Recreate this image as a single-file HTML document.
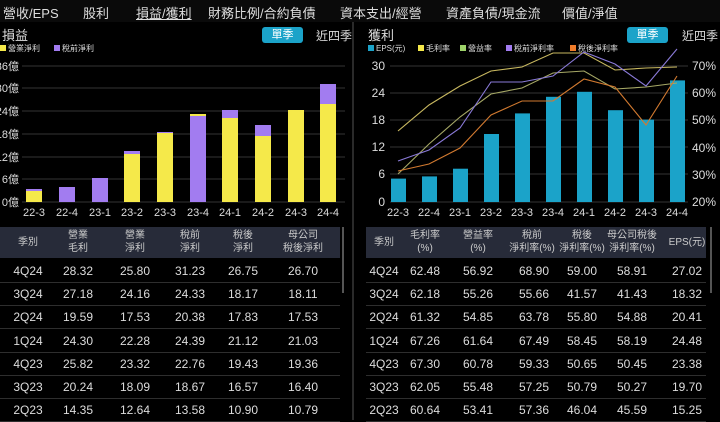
<!DOCTYPE html>
<html><head><meta charset="utf-8"><style>
body{margin:0;width:720px;height:420px;overflow:hidden;background:#000;font-family:"Liberation Sans","Noto Sans CJK TC",sans-serif;color:#ddd;position:relative}
.a{position:absolute;white-space:nowrap}
.nav{font-size:13px;color:#ddd;top:3px}
.btn{background:#1ba3c9;color:#fff;font-size:11px;border-radius:3px;text-align:center;line-height:16px}
.hd{background:#272b39;position:absolute;top:227px;height:31px}
.c{position:absolute;text-align:center;font-size:12px;transform:translateX(-50%)}
.h{font-size:10px;line-height:13px;color:#ccc}
.sep{position:absolute;height:1px;background:#2e2e2e}
</style></head><body>
<div class="a" style="left:0;top:0;width:720px;height:22px;background:#0a0a0a"></div>
<div class="a nav" style="left:3px">營收/EPS</div>
<div class="a nav" style="left:83px">股利</div>
<div class="a nav" style="left:136px;text-decoration:underline">損益/獲利</div>
<div class="a nav" style="left:208px">財務比例/合約負債</div>
<div class="a nav" style="left:340px">資本支出/經營</div>
<div class="a nav" style="left:446px">資產負債/現金流</div>
<div class="a nav" style="left:562px">價值/淨值</div>
<div class="a" style="left:352px;top:22px;width:2px;height:398px;background:#2a2a2a"></div>

<div class="a" style="left:2px;top:25px;font-size:13px">損益</div>
<div class="a btn" style="left:262px;top:27px;width:41px">單季</div>
<div class="a" style="left:316px;top:27px;font-size:12px">近四季</div>
<div class="a" style="left:368px;top:25px;font-size:13px">獲利</div>
<div class="a btn" style="left:627px;top:27px;width:41px">單季</div>
<div class="a" style="left:682px;top:27px;font-size:12px">近四季</div>

<svg class="a" style="left:0;top:0" width="720" height="225" font-family="Liberation Sans,Noto Sans CJK TC,sans-serif">
<g font-size="8" fill="#ddd">
<rect x="0" y="45" width="6" height="6" fill="#f5e94a"/><text x="8" y="51">營業淨利</text>
<rect x="54" y="45" width="6" height="6" fill="#a27cf0"/><text x="62" y="51">稅前淨利</text>
</g>
<g stroke="#333" stroke-width="1">
<line x1="22" x2="345" y1="66" y2="66"/><line x1="22" x2="345" y1="88" y2="88"/><line x1="22" x2="345" y1="111" y2="111"/><line x1="22" x2="345" y1="134" y2="134"/><line x1="22" x2="345" y1="157" y2="157"/><line x1="22" x2="345" y1="179" y2="179"/><line x1="22" x2="345" y1="202" y2="202"/>
</g>
<g font-size="11" fill="#ddd" text-anchor="end">
<text x="19" y="70">36億</text><text x="19" y="92">30億</text><text x="19" y="115">24億</text><text x="19" y="138">18億</text><text x="19" y="161">12億</text><text x="19" y="183">6億</text><text x="19" y="206">0億</text>
</g>
<g>
<rect x="26" y="189" width="16" height="13" fill="#a27cf0"/><rect x="26" y="191" width="16" height="11" fill="#f5e94a"/>
<rect x="59" y="187" width="16" height="15" fill="#a27cf0"/>
<rect x="92" y="178" width="16" height="24" fill="#a27cf0"/>
<rect x="124" y="151" width="16" height="51" fill="#a27cf0"/><rect x="124" y="154" width="16" height="48" fill="#f5e94a"/>
<rect x="157" y="132" width="16" height="70" fill="#a27cf0"/><rect x="157" y="133" width="16" height="69" fill="#f5e94a"/>
<rect x="190" y="114" width="16" height="88" fill="#f5e94a"/><rect x="190" y="116" width="16" height="86" fill="#a27cf0"/>
<rect x="222" y="110" width="16" height="92" fill="#a27cf0"/><rect x="222" y="118" width="16" height="84" fill="#f5e94a"/>
<rect x="255" y="125" width="16" height="77" fill="#a27cf0"/><rect x="255" y="136" width="16" height="66" fill="#f5e94a"/>
<rect x="288" y="110" width="16" height="92" fill="#f5e94a"/>
<rect x="320" y="84" width="16" height="118" fill="#a27cf0"/><rect x="320" y="104" width="16" height="98" fill="#f5e94a"/>
</g>
<g font-size="11" fill="#ddd" text-anchor="middle">
<text x="34" y="216">22-3</text><text x="67" y="216">22-4</text><text x="100" y="216">23-1</text><text x="132" y="216">23-2</text><text x="165" y="216">23-3</text><text x="198" y="216">23-4</text><text x="230" y="216">24-1</text><text x="263" y="216">24-2</text><text x="296" y="216">24-3</text><text x="328" y="216">24-4</text>
</g>

<g font-size="8" fill="#ddd">
<rect x="368" y="45" width="6" height="6" fill="#1ba3c9"/><text x="376" y="51">EPS(元)</text>
<rect x="418" y="45" width="6" height="6" fill="#f5e94a"/><text x="426" y="51">毛利率</text>
<rect x="460" y="45" width="6" height="6" fill="#9ed36a"/><text x="468" y="51">營益率</text>
<rect x="506" y="45" width="6" height="6" fill="#a27cf0"/><text x="514" y="51">稅前淨利率</text>
<rect x="570" y="45" width="6" height="6" fill="#f07c2a"/><text x="578" y="51">稅後淨利率</text>
</g>
<g stroke="#333"><line x1="390" x2="688" y1="66" y2="66"/><line x1="390" x2="688" y1="93" y2="93"/><line x1="390" x2="688" y1="120" y2="120"/><line x1="390" x2="688" y1="147" y2="147"/><line x1="390" x2="688" y1="174" y2="174"/><line x1="390" x2="688" y1="202" y2="202"/></g>
<g font-size="12" fill="#ddd" text-anchor="end">
<text x="385" y="70">30</text><text x="385" y="97">24</text><text x="385" y="124">18</text><text x="385" y="151">12</text><text x="385" y="178">6</text><text x="385" y="206">0</text>
</g>
<g font-size="12" fill="#ddd">
<text x="692" y="70">70%</text><text x="692" y="97">60%</text><text x="692" y="124">50%</text><text x="692" y="152">40%</text><text x="692" y="179">30%</text><text x="692" y="206">20%</text>
</g>
<g fill="#1ba3c9">
<rect x="391" y="178.6" width="15" height="23.4"/><rect x="422" y="176.4" width="15" height="25.6"/><rect x="453" y="168.7" width="15" height="33.3"/><rect x="484" y="134" width="15" height="68"/><rect x="515" y="113.4" width="15" height="88.6"/><rect x="546" y="96.8" width="15" height="105.2"/><rect x="577" y="91.8" width="15" height="110.2"/><rect x="608" y="110.2" width="15" height="91.8"/><rect x="639" y="119.6" width="15" height="82.4"/><rect x="670" y="80.4" width="15" height="121.6"/>
</g>
<g fill="none" stroke-width="1.1">
<polyline stroke="#c8b860" points="398,131 429,105 460,86 491,71 522,67 553,53 584,53 615,70 646,68 677,67"/>
<polyline stroke="#a6a866" points="398,174 429,144 460,117 491,94 522,88 553,73 584,71 615,89 646,87 677,83"/>
<polyline stroke="#8a7ad8" points="398,161 429,150 460,128 491,82 522,82 553,76 584,52 615,64 646,86 677,49"/>
<polyline stroke="#d27a30" points="398,171 429,164 460,148 491,115 522,101 553,101 584,79 615,87 646,125 677,76"/>
</g>
<g font-size="11" fill="#ddd" text-anchor="middle">
<text x="398" y="216">22-3</text><text x="429" y="216">22-4</text><text x="460" y="216">23-1</text><text x="491" y="216">23-2</text><text x="522" y="216">23-3</text><text x="553" y="216">23-4</text><text x="584" y="216">24-1</text><text x="615" y="216">24-2</text><text x="646" y="216">24-3</text><text x="677" y="216">24-4</text>
</g>
</svg>

<div class="hd" style="left:0;width:340px"></div>
<div class="hd" style="left:366px;width:340px"></div>
<div class="a" style="left:342px;top:227px;width:2px;height:66px;background:#555"></div>
<div class="a" style="left:710px;top:227px;width:2px;height:66px;background:#555"></div>

<div class="c h" style="left:28px;top:236px">季別</div>
<div class="c h" style="left:78px;top:229px">營業<br>毛利</div>
<div class="c h" style="left:135px;top:229px">營業<br>淨利</div>
<div class="c h" style="left:190px;top:229px">稅前<br>淨利</div>
<div class="c h" style="left:243px;top:229px">稅後<br>淨利</div>
<div class="c h" style="left:303px;top:229px">母公司<br>稅後淨利</div>

<div class="c h" style="left:384px;top:236px">季別</div>
<div class="c h" style="left:425px;top:229px">毛利率<br>(%)</div>
<div class="c h" style="left:478px;top:229px">營益率<br>(%)</div>
<div class="c h" style="left:532px;top:229px">稅前<br>淨利率(%)</div>
<div class="c h" style="left:582px;top:229px">稅後<br>淨利率(%)</div>
<div class="c h" style="left:632px;top:229px">母公司稅後<br>淨利率(%)</div>
<div class="c h" style="left:687px;top:236px">EPS(元)</div>

<div id="rows"></div>
<script>
var L=[["4Q24","28.32","25.80","31.23","26.75","26.70"],["3Q24","27.18","24.16","24.33","18.17","18.11"],["2Q24","19.59","17.53","20.38","17.83","17.53"],["1Q24","24.30","22.28","24.39","21.12","21.03"],["4Q23","25.82","23.32","22.76","19.43","19.36"],["3Q23","20.24","18.09","18.67","16.57","16.40"],["2Q23","14.35","12.64","13.58","10.90","10.79"]];
var R=[["4Q24","62.48","56.92","68.90","59.00","58.91","27.02"],["3Q24","62.18","55.26","55.66","41.57","41.43","18.32"],["2Q24","61.32","54.85","63.78","55.80","54.88","20.41"],["1Q24","67.26","61.64","67.49","58.45","58.19","24.48"],["4Q23","67.30","60.78","59.33","50.65","50.45","23.38"],["3Q23","62.05","55.48","57.25","50.79","50.27","19.70"],["2Q23","60.64","53.41","57.36","46.04","45.59","15.25"]];
var lx=[28,78,135,190,243,303],rx=[384,425,478,534,582,632,687],h="";
for(var i=0;i<7;i++){var y=264+i*23.2;
for(var j=0;j<6;j++)h+='<div class="c" style="left:'+lx[j]+'px;top:'+y+'px">'+L[i][j]+'</div>';
for(var j=0;j<7;j++)h+='<div class="c" style="left:'+rx[j]+'px;top:'+y+'px">'+R[i][j]+'</div>';
h+='<div class="sep" style="left:0;width:340px;top:'+(y+18)+'px"></div><div class="sep" style="left:366px;width:340px;top:'+(y+18)+'px"></div>';}
document.getElementById("rows").innerHTML=h;
</script>
</body></html>
